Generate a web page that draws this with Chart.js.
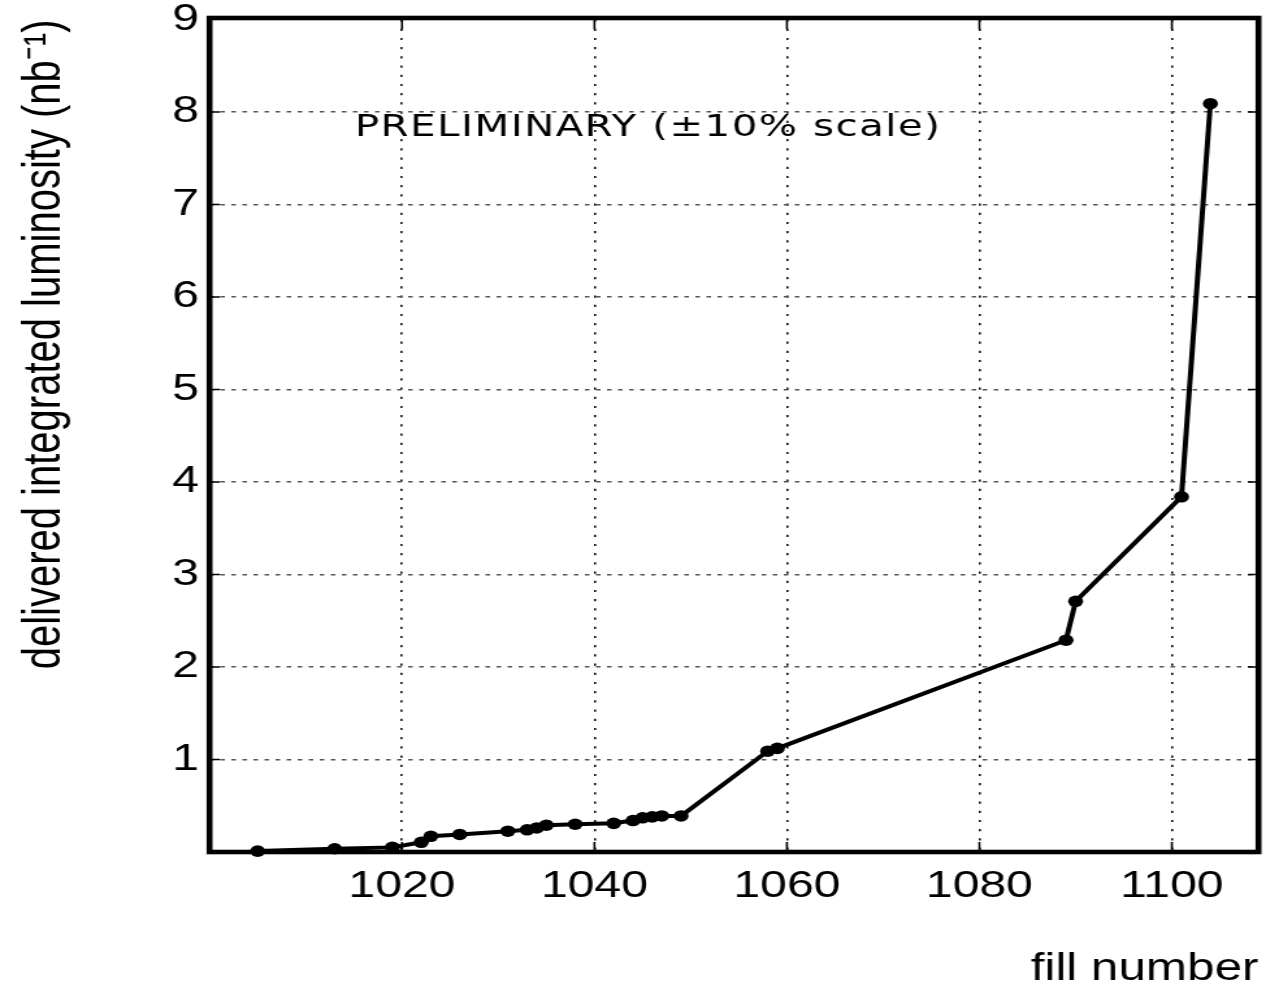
<!DOCTYPE html>
<html>
<head>
<meta charset="utf-8">
<script src="https://cdn.jsdelivr.net/npm/chart.js@4/dist/chart.umd.min.js"></script>
<style>
  html, body { margin: 0; padding: 0; background: #fff; overflow: hidden; }
  #wrap { width: 974px; height: 987px; transform: scaleX(1.2998); transform-origin: 0 0; }
</style>
</head>
<body>
<div id="wrap"><canvas id="c" width="974" height="987"></canvas></div>
<script>
// ---- data ----
const fillNumbers = [1005, 1013, 1019, 1022, 1023, 1026, 1031, 1033, 1034, 1035, 1038, 1042, 1044, 1045, 1046, 1047, 1049, 1058, 1059, 1089, 1090, 1101, 1104];
const luminosity  = [0.01, 0.035, 0.05, 0.105, 0.17, 0.19, 0.225, 0.24, 0.26, 0.29, 0.30, 0.31, 0.34, 0.37, 0.38, 0.39, 0.39, 1.09, 1.12, 2.29, 2.71, 3.84, 8.09];
const xTickValues = [1020, 1040, 1060, 1080, 1100];
const yTickValues = [1, 2, 3, 4, 5, 6, 7, 8, 9];
const xTitle = 'fill number';
const yTitle = 'delivered integrated luminosity (nb\u207B\u00B9)';
const noteText = 'PRELIMINARY (\u00B110% scale)';
const noteAt = { x: 1015.1, y: 7.74 };

const points = fillNumbers.map((f, i) => ({ x: f, y: luminosity[i] }));

const framePlugin = {
  id: 'frame',
  beforeDatasetsDraw(chart) {
    const { ctx, chartArea: a, scales: { x, y } } = chart;
    ctx.save();
    ctx.strokeStyle = '#000';
    ctx.lineWidth = 1.6;
    ctx.beginPath();
    yTickValues.forEach(v => {
      if (v >= 9) return;
      const py = y.getPixelForValue(v);
      ctx.moveTo(a.left, py); ctx.lineTo(a.left + 8, py);
      ctx.moveTo(a.right, py); ctx.lineTo(a.right - 8, py);
    });
    xTickValues.forEach(v => {
      const px = x.getPixelForValue(v);
      ctx.moveTo(px, a.bottom); ctx.lineTo(px, a.bottom - 10);
      ctx.moveTo(px, a.top); ctx.lineTo(px, a.top + 10);
    });
    ctx.stroke();
    ctx.lineWidth = 4.6;
    ctx.strokeRect(a.left, a.top - 1.5, a.right - a.left, a.bottom - a.top + 1.5);
    // annotation text
    ctx.fillStyle = '#000';
    ctx.font = '31px "DejaVu Sans", sans-serif';
    ctx.textBaseline = 'alphabetic';
    ctx.textAlign = 'left';
    const w0 = ctx.measureText(noteText).width;
    const target = 450;
    if ('letterSpacing' in ctx) {
      ctx.letterSpacing = ((target - w0) / (noteText.length - 1)).toFixed(2) + 'px';
    }
    ctx.fillText(noteText, x.getPixelForValue(noteAt.x), y.getPixelForValue(noteAt.y));
    ctx.restore();
  }
};

new Chart(document.getElementById('c'), {
  type: 'line',
  data: {
    datasets: [{
      data: points,
      borderColor: '#000',
      backgroundColor: '#000',
      borderWidth: 4,
      pointRadius: 5.8,
      pointHoverRadius: 5.8,
      pointBackgroundColor: '#000',
      pointBorderWidth: 0,
      tension: 0,
      clip: false
    }]
  },
  options: {
    responsive: false,
    animation: false,
    events: [],
    layout: { padding: { top: 19.5, right: 3.6, left: 0, bottom: 0 } },
    plugins: { legend: { display: false }, tooltip: { enabled: false } },
    scales: {
      x: {
        type: 'linear',
        min: 1000, max: 1109,
        border: { display: false, dash: [2.2, 7] },
        afterBuildTicks(s) { s.ticks = xTickValues.map(v => ({ value: v })); },
        afterFit(s) { s.height = 135; s.paddingLeft = 0; s.paddingRight = 0; },
        ticks: {
          color: '#000',
          font: { family: '"Liberation Sans", Arial, sans-serif', size: 37 },
          padding: 12.5,
          maxRotation: 0,
          callback: v => String(v)
        },
        grid: {
          drawTicks: false,
          color: '#111',
          lineWidth: 1.6
        },
        title: {
          display: true,
          text: xTitle,
          align: 'end',
          color: '#000',
          font: { family: '"Liberation Sans", Arial, sans-serif', size: 38, lineHeight: 1 },
          padding: { top: 0, bottom: -2 }
        }
      },
      y: {
        type: 'linear',
        min: 0, max: 9,
        border: { display: false, dash: [3.5, 5] },
        afterBuildTicks(s) { s.ticks = [0].concat(yTickValues).map(v => ({ value: v })); },
        afterFit(s) { s.width = 161.2; s.paddingTop = 0; s.paddingBottom = 0; },
        ticks: {
          color: '#000',
          font: { family: '"Liberation Sans", Arial, sans-serif', size: 37 },
          padding: 8,
          callback: v => (v === 0 ? '' : String(v))
        },
        grid: {
          drawTicks: false,
          color: ctx => (ctx.tick && (ctx.tick.value === 0 || ctx.tick.value === 9)) ? 'rgba(0,0,0,0)' : '#555',
          lineWidth: 1.6
        },
        title: {
          display: true,
          text: yTitle,
          align: 'end',
          color: '#000',
          font: { family: '"Liberation Sans", Arial, sans-serif', size: 40, lineHeight: 1 },
          padding: { top: 14.6, bottom: 0 }
        }
      }
    }
  },
  plugins: [framePlugin]
});
</script>
</body>
</html>
